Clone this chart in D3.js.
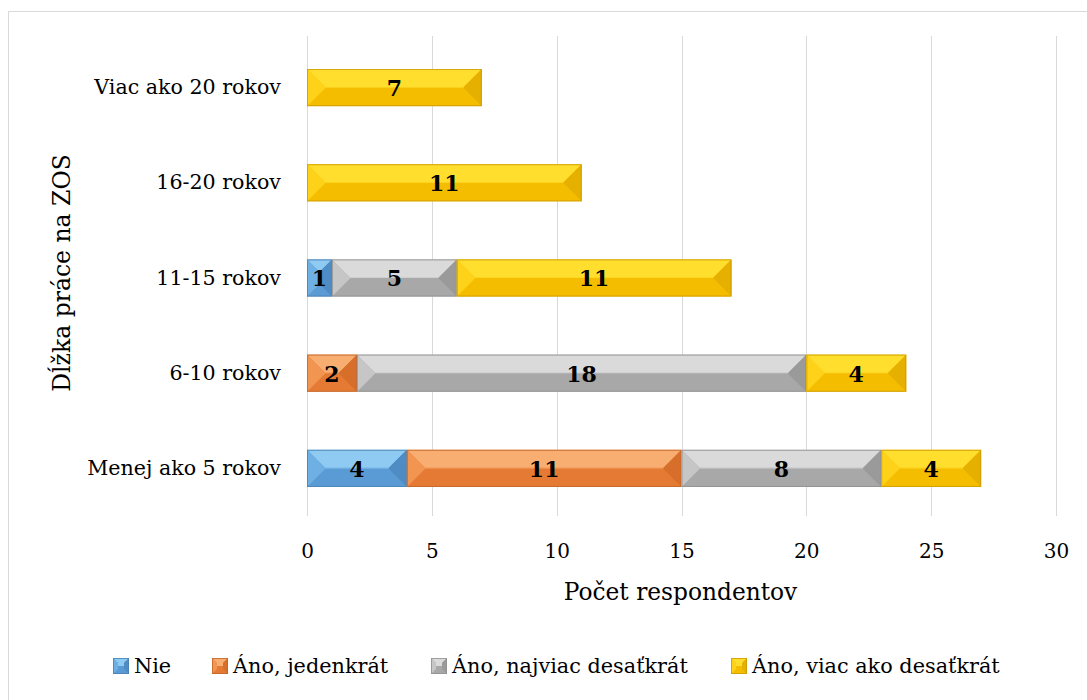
<!DOCTYPE html>
<html>
<head>
<meta charset="utf-8">
<script src="https://cdn.jsdelivr.net/npm/d3@7/dist/d3.min.js"></script>
<style>
  html, body { margin: 0; padding: 0; background: #fff; overflow: hidden; }
  svg { display: block; }
  text { font-family: "DejaVu Serif", "Liberation Serif", serif; fill: #000; }
</style>
</head>
<body>
<svg id="chart" width="1087" height="700"></svg>
<script>
// Categories (bottom to top, as listed in the survey)
const categories = ["Menej ako 5 rokov", "6-10 rokov", "11-15 rokov", "16-20 rokov", "Viac ako 20 rokov"];
const seriesNames = ["Nie", "Áno, jedenkrát", "Áno, najviac desaťkrát", "Áno, viac ako desaťkrát"];
const nie        = [4, 0, 1, 0, 0];
const jedenkrat  = [11, 2, 0, 0, 0];
const najviac    = [8, 18, 5, 0, 0];
const viacAko    = [4, 4, 11, 11, 7];
const xTicks = [0, 5, 10, 15, 20, 25, 30];

const FONT = "DejaVu Serif";

// Bevel shades per series: top face, left face, bottom face, right face, outline
const shades = [
  { top: "#8ecaf2", left: "#6fb0e4", bottom: "#5b9bd5", right: "#4f8cc4", edge: "#4a7fb0" },
  { top: "#f8ae70", left: "#f29550", bottom: "#e57a34", right: "#d76e2a", edge: "#c0652a" },
  { top: "#dadada", left: "#c6c6c6", bottom: "#a8a8a8", right: "#9a9a9a", edge: "#909090" },
  { top: "#ffde2e", left: "#ffd21a", bottom: "#f5bd00", right: "#e6b000", edge: "#c99a00" }
];

const svg = d3.select("#chart");

// Outer chart frame (runs past the right and bottom edges)
svg.append("rect")
  .attr("x", 8.5).attr("y", 11.5).attr("width", 1090).attr("height", 700)
  .attr("fill", "#fff").attr("stroke", "#d9d9d9").attr("stroke-width", 1);

const plot = { left: 307, right: 1056, top: 40, bottom: 516 };

const x = d3.scaleLinear().domain([0, 30]).range([plot.left, plot.right]);
const y = d3.scaleBand()
  .domain(categories.slice().reverse())
  .range([plot.top, plot.bottom])
  .paddingInner(0.61).paddingOuter(0.305);

// Vertical gridlines
svg.append("g").selectAll("line").data(xTicks).join("line")
  .attr("x1", d => Math.round(x(d)) + 0.5).attr("x2", d => Math.round(x(d)) + 0.5)
  .attr("y1", plot.top - 4).attr("y2", plot.bottom)
  .attr("stroke", "#d9d9d9").attr("stroke-width", 1);

// X axis tick labels
const xAxis = d3.axisBottom(x).tickValues(xTicks).tickSize(0).tickPadding(0);
const gx = svg.append("g").attr("transform", `translate(0, ${plot.bottom + 42})`).call(xAxis);
gx.select(".domain").remove();
gx.selectAll("text").attr("font-size", 20).attr("font-family", FONT).attr("fill", "#000").attr("dy", 0);

// Y axis category labels
const yAxis = d3.axisLeft(y).tickSize(0).tickPadding(0);
const gy = svg.append("g").attr("transform", `translate(${plot.left - 26}, 0)`).call(yAxis);
gy.select(".domain").remove();
gy.selectAll("text").attr("font-size", 20.6).attr("font-family", FONT).attr("fill", "#000");

// Axis titles
svg.append("text")
  .attr("x", (plot.left + plot.right) / 2 - 1).attr("y", 600)
  .attr("text-anchor", "middle").attr("font-size", 23.3)
  .text("Počet respondentov");
svg.append("text")
  .attr("transform", `translate(70, ${(plot.top + plot.bottom) / 2 - 5}) rotate(-90)`)
  .attr("text-anchor", "middle").attr("font-size", 23.5)
  .text("Dĺžka práce na ZOS");

// Stack the series
const rows = categories.map((c, i) => ({
  cat: c, s0: nie[i], s1: jedenkrat[i], s2: najviac[i], s3: viacAko[i]
}));
const stack = d3.stack().keys(["s0", "s1", "s2", "s3"]);
const layers = stack(rows);

// Draws a bevelled box (pyramid-style faces) into group g
function bevelBox(g, x0, y0, w, h, sh, bevelMax) {
  const x1 = x0 + w, y1 = y0 + h;
  const b = Math.min(bevelMax, w / 2, h / 2);
  const ym = y0 + b, yb = y1 - b;
  const pts = a => a.map(p => p.join(",")).join(" ");
  // bottom face (base)
  g.append("rect").attr("x", x0).attr("y", y0).attr("width", w).attr("height", h).attr("fill", sh.bottom);
  // top face
  g.append("polygon").attr("points", pts([[x0, y0], [x1, y0], [x1 - b, ym], [x0 + b, ym]])).attr("fill", sh.top);
  // middle band between faces
  if (yb > ym) {
    g.append("rect").attr("x", x0 + b).attr("y", ym).attr("width", Math.max(0, w - 2 * b)).attr("height", (yb - ym) / 2).attr("fill", sh.top);
  }
  // left face
  g.append("polygon").attr("points", pts([[x0, y0], [x0 + b, ym], [x0 + b, yb], [x0, y1]])).attr("fill", sh.left);
  // right face
  g.append("polygon").attr("points", pts([[x1, y0], [x1 - b, ym], [x1 - b, yb], [x1, y1]])).attr("fill", sh.right);
  // outline
  g.append("rect").attr("x", x0 + 0.5).attr("y", y0 + 0.5).attr("width", Math.max(0, w - 1)).attr("height", h - 1)
    .attr("fill", "none").attr("stroke", sh.edge).attr("stroke-width", 1).attr("stroke-opacity", 0.8);
}

const barsG = svg.append("g");
layers.forEach((layer, si) => {
  layer.forEach(seg => {
    const v = seg[1] - seg[0];
    if (v <= 0) return;
    const cat = seg.data.cat;
    const x0 = x(seg[0]), w = x(seg[1]) - x(seg[0]);
    const g = barsG.append("g");
    bevelBox(g, x0, y(cat), w, y.bandwidth(), shades[si], 18);
  });
});

// Value labels centred in each segment
const labelsG = svg.append("g");
layers.forEach(layer => {
  layer.forEach(seg => {
    const v = seg[1] - seg[0];
    if (v <= 0) return;
    labelsG.append("text")
      .attr("x", x((seg[0] + seg[1]) / 2))
      .attr("y", y(seg.data.cat) + y.bandwidth() / 2)
      .attr("dy", "0.38em")
      .attr("text-anchor", "middle")
      .attr("font-size", 22).attr("font-weight", "bold")
      .text(v);
  });
});

// Legend
const legendX = [113, 212, 431, 731];
const legendY = 666;
const lg = svg.append("g");
seriesNames.forEach((name, i) => {
  const g = lg.append("g");
  bevelBox(g, legendX[i], legendY - 8, 16, 16, shades[i], 5);
  g.append("text")
    .attr("x", legendX[i] + 21).attr("y", legendY).attr("dy", "0.35em")
    .attr("font-size", 20.8).text(name);
});
</script>
</body>
</html>
